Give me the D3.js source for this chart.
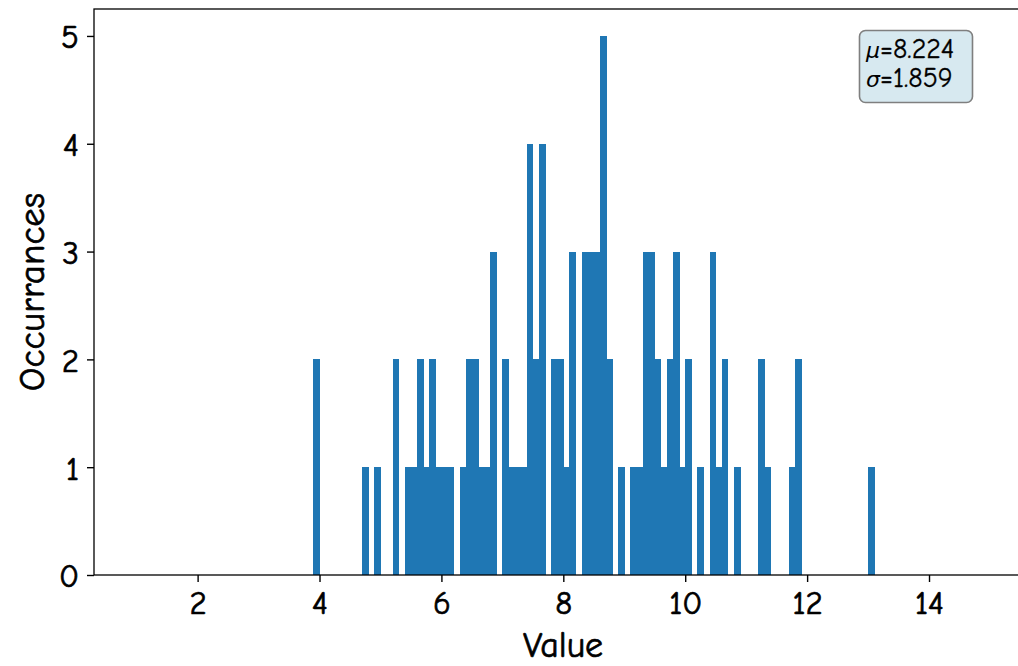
<!DOCTYPE html>
<html>
<head>
<meta charset="utf-8">
<script src="https://cdn.jsdelivr.net/npm/d3@7"></script>
<style>
  html, body { margin: 0; padding: 0; background: #ffffff; }
  svg { display: block; }
  .lbl { font-family: "Humor Sans", "Comic Sans MS", "Comic Neue", Lato, "DejaVu Sans", sans-serif; fill: #000; font-weight: 400; stroke: #000; stroke-width: 0.7px; }
</style>
</head>
<body>
<svg id="chart" width="1018" height="666"></svg>
<script>
// ---- data ----
const binRange = [1, 15];          // histogram bin range
const binWidth = 0.1;              // width of each bin
const binStarts = [3.9, 4.7, 4.9, 5.2,
  5.4, 5.5, 5.6, 5.7, 5.8, 5.9, 6.0, 6.1,
  6.3, 6.4, 6.5, 6.6, 6.7, 6.8,
  7.0, 7.1, 7.2, 7.3, 7.4, 7.5, 7.6,
  7.8, 7.9, 8.0, 8.1,
  8.3, 8.4, 8.5, 8.6, 8.7,
  8.9,
  9.1, 9.2, 9.3, 9.4, 9.5, 9.6, 9.7, 9.8, 9.9, 10.0,
  10.2,
  10.4, 10.5, 10.6,
  10.8,
  11.2, 11.3,
  11.7, 11.8,
  13.0];
const counts = [2, 1, 1, 2,
  1, 1, 2, 1, 2, 1, 1, 1,
  1, 2, 2, 1, 1, 3,
  2, 1, 1, 1, 4, 2, 4,
  2, 2, 1, 3,
  3, 3, 3, 5, 2,
  1,
  1, 1, 3, 3, 2, 1, 2, 3, 1, 2,
  1,
  3, 1, 2,
  1,
  2, 1,
  1, 2,
  1];
const xTicks = [2, 4, 6, 8, 10, 12, 14];
const yTicks = [0, 1, 2, 3, 4, 5];
const statsLines = [["μ", "=8.224"], ["σ", "=1.859"]];
const xLabel = "Value";
const yLabel = "Occurrances";

// ---- layout ----
const svg = d3.select("#chart");
const mLeft = 94, mTop = 9, mBottom = 575;
const pxPerUnit = 60.95;
const span = binRange[1] - binRange[0];
const xDomain = [binRange[0] - 0.05 * span, binRange[1] + 0.05 * span];
const mRight = mLeft + (xDomain[1] - xDomain[0]) * pxPerUnit;
const yMax = d3.max(counts) * 1.05;

const x = d3.scaleLinear().domain(xDomain).range([mLeft, mRight]);
const y = d3.scaleLinear().domain([0, yMax]).range([mBottom, mTop]);

const bars = binStarts.map((s, i) => ({ x0: s, x1: s + binWidth, n: counts[i] }));

svg.append("g").attr("shape-rendering", "crispEdges")
  .selectAll("rect").data(bars).join("rect")
  .attr("x", d => x(d.x0))
  .attr("width", d => x(d.x1) - x(d.x0) + 0.6)
  .attr("y", d => y(d.n))
  .attr("height", d => y(0) - y(d.n))
  .attr("fill", "#1f77b4");

// axes
const xAxis = svg.append("g").attr("transform", `translate(0,${mBottom})`)
  .call(d3.axisBottom(x).tickValues(xTicks).tickFormat(d3.format("d")).tickSize(7).tickPadding(8));
const yAxis = svg.append("g").attr("transform", `translate(${mLeft},0)`)
  .call(d3.axisLeft(y).tickValues(yTicks).tickFormat(d3.format("d")).tickSize(7).tickPadding(8));
[xAxis, yAxis].forEach(g => {
  g.select(".domain").remove();
  g.selectAll(".tick line").attr("stroke", "#000").attr("stroke-width", 1.4);
  g.selectAll(".tick text").attr("class", "lbl").style("font-size", "33px").attr("fill", "#000");
});
xAxis.selectAll(".tick text").attr("dy", "0.72em");
yAxis.selectAll(".tick text").attr("dy", "0.36em");

// frame
svg.append("rect")
  .attr("x", mLeft).attr("y", mTop)
  .attr("width", mRight - mLeft).attr("height", mBottom - mTop)
  .attr("fill", "none").attr("stroke", "#000").attr("stroke-width", 1.3);

// axis labels
svg.append("text").attr("class", "lbl")
  .attr("x", 563).attr("y", 657)
  .attr("text-anchor", "middle").style("font-size", "36px").text(xLabel);
svg.append("text").attr("class", "lbl")
  .attr("transform", `translate(44,292) rotate(-90)`)
  .attr("text-anchor", "middle").style("font-size", "37px").text(yLabel);

// stats box
const box = svg.append("g");
box.append("rect")
  .attr("x", 859.5).attr("y", 30.5).attr("width", 113).attr("height", 72)
  .attr("rx", 6).attr("ry", 6)
  .attr("fill", "#d7e9f0").attr("stroke", "#7f7f7f").attr("stroke-width", 1.6);
statsLines.forEach((ln, i) => {
  const t = box.append("text").attr("class", "lbl")
    .attr("x", 866).attr("y", 58 + i * 29)
    .style("font-size", "28px").style("stroke-width", "0.3px");
  t.append("tspan").style("font-style", "italic").style("font-family", "'DejaVu Sans', sans-serif").style("font-size", "22px").style("stroke-width", "0").text(ln[0]);
  t.append("tspan").text(ln[1]);
});
</script>
</body>
</html>
